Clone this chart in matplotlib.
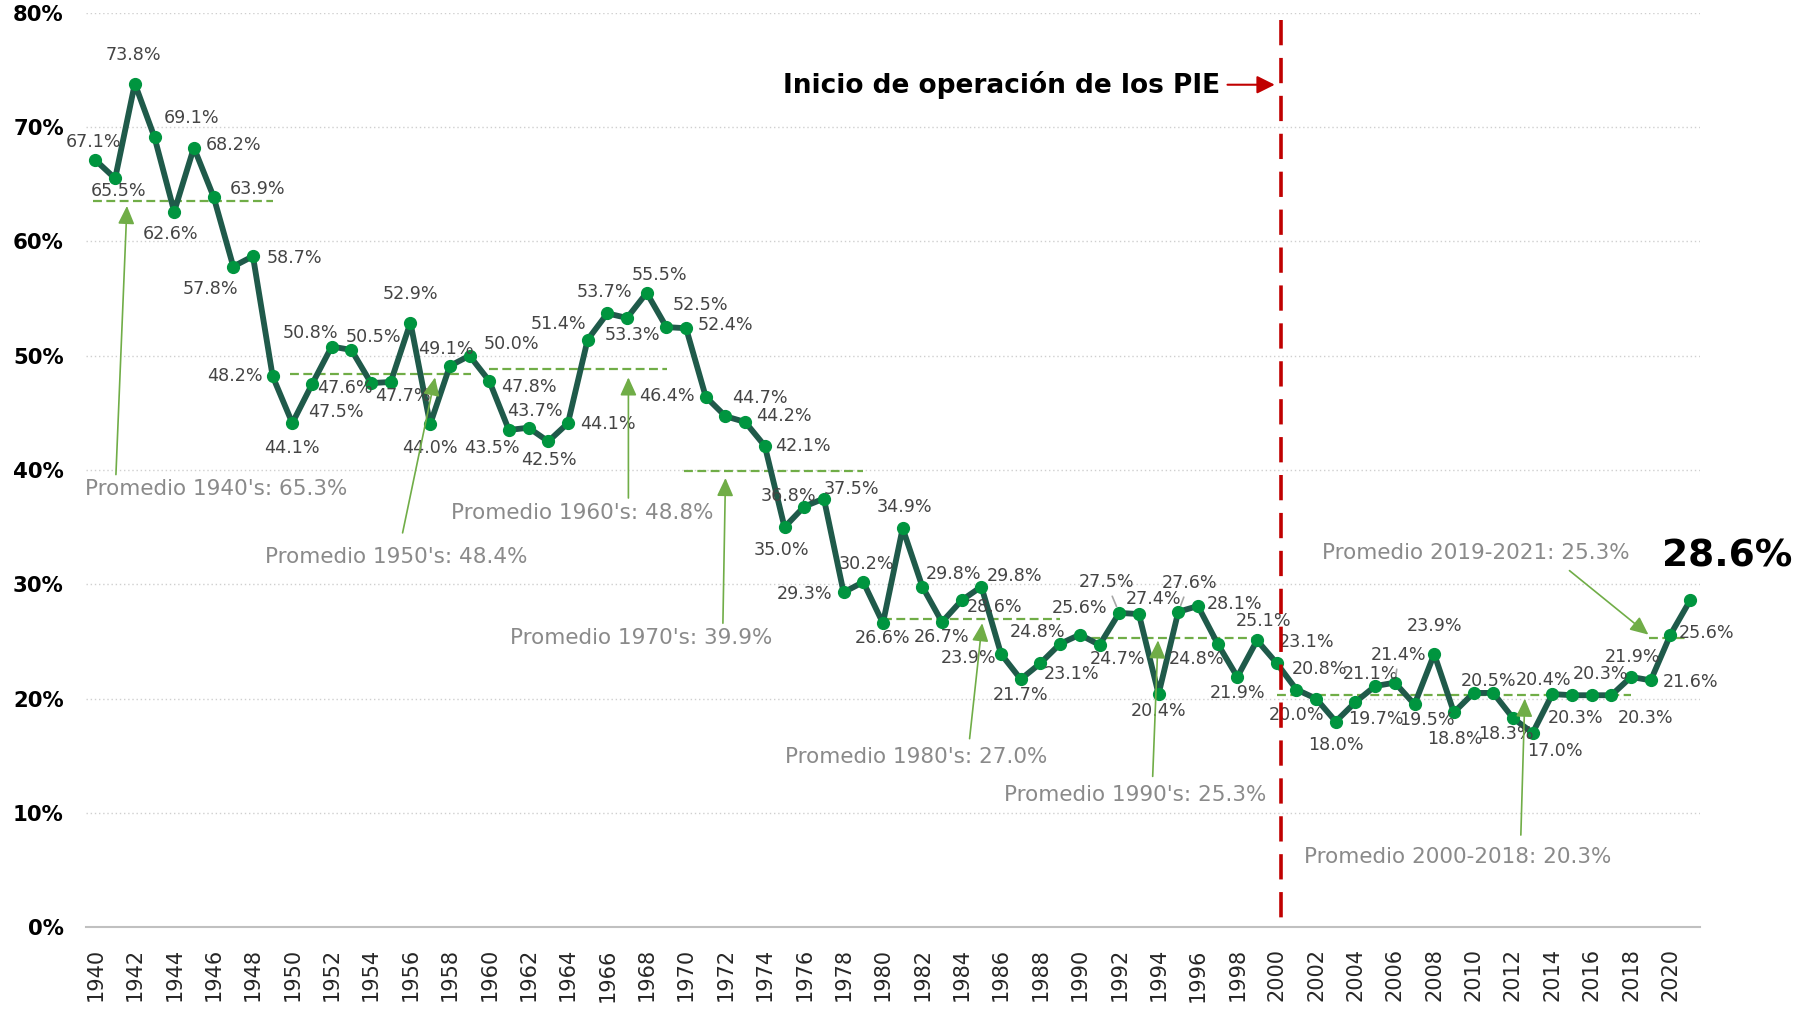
import matplotlib
matplotlib.use('Agg')
import matplotlib.pyplot as plt

plt.rcParams['font.family'] = ['DejaVu Sans']

# ---------------- data ----------------
years = list(range(1940, 2022))
values = [67.1, 65.5, 73.8, 69.1, 62.6, 68.2, 63.9, 57.8, 58.7, 48.2,
          44.1, 47.5, 50.8, 50.5, 47.6, 47.7, 52.9, 44.0, 49.1, 50.0,
          47.8, 43.5, 43.7, 42.5, 44.1, 51.4, 53.7, 53.3, 55.5, 52.5,
          52.4, 46.4, 44.7, 44.2, 42.1, 35.0, 36.8, 37.5, 29.3, 30.2,
          26.6, 34.9, 29.8, 26.7, 28.6, 29.8, 23.9, 21.7, 23.1, 24.8,
          25.6, 24.7, 27.5, 27.4, 20.4, 27.6, 28.1, 24.8, 21.9, 25.1,
          23.1, 20.8, 20.0, 18.0, 19.7, 21.1, 21.4, 19.5, 23.9, 18.8,
          20.5, 20.5, 18.3, 17.0, 20.4, 20.3, 20.3, 20.3, 21.9, 21.6,
          25.6, 28.6]
unlabeled_years = [2011, 2021]
leader_years = [1992, 1995, 2006]

# label offsets in pixels (dx, dy up)
label_offsets = [(-2, 18), (3, -13), (-1, 29), (37, 19), (-4, -22), (40, 3), (44, 8), (-23, -22), (42, -2), (-38, 0),
                 (0, -25), (24, -28), (-21, 14), (22, 13), (-26, -5), (12, -14), (0, 29), (0, -24), (-4, 17), (42, 12),
                 (40, -6), (-17, -18), (6, 17), (1, -19), (40, -1), (-29, 16), (-3, 21), (5, -17), (13, 18), (34, 22),
                 (39, 3), (-39, 1), (34, 18), (39, 6), (38, 0), (-3, -23), (-16, 11), (28, 10), (-39, -2), (3, 18),
                 (0, -15), (2, 21), (31, 13), (0, -15), (33, -7), (33, 11), (-33, -4), (0, -16), (31, -11), (-23, 12),
                 (0, 27), (18, -14), (-13, 31), (15, 15), (0, -17), (11, 29), (37, 2), (-21, -15), (0, -16), (7, 19),
                 (30, 21), (23, 21), (-20, -16), (0, -23), (20, -17), (-5, 12), (4, 28), (12, -16), (0, 28), (1, -27),
                 (15, 12), (0, 0), (-7, -16), (22, -18), (-9, 14), (4, -23), (9, 21), (34, -23), (1, 20), (40, -2),
                 (36, 2), (0, 0)]

# average segments
avg_labels = ["Promedio 1940's: 65.3%", "Promedio 1950's: 48.4%", "Promedio 1960's: 48.8%",
              "Promedio 1970's: 39.9%", "Promedio 1980's: 27.0%", "Promedio 1990's: 25.3%",
              "Promedio 2000-2018: 20.3%", "Promedio 2019-2021: 25.3%"]
avg_values = [63.5, 48.4, 48.8, 39.9, 27.0, 25.3, 20.3, 25.3]
avg_start = [1939.9, 1949.9, 1960.0, 1969.9, 1980.0, 1989.9, 2000.0, 2018.9]
avg_end = [1949.0, 1959.05, 1969.05, 1979.0, 1989.0, 1999.2, 2018.0, 2020.8]
# annotation text positions (center) and arrows (tail -> tip)
avg_text_pos = [(1939.47, 38.35, 'left'), (1955.3, 32.4, 'center'), (1964.75, 36.2, 'center'),
                (1967.7, 25.3, 'center'), (1981.67, 14.9, 'center'), (1992.8, 11.6, 'center'),
                (2009.2, 6.16, 'center'), (2010.1, 32.7, 'center')]
avg_arrow_tail = [(1941.04, 39.6), (1955.6, 34.5), (1967.07, 37.55), (1971.87, 26.6),
                  (1984.4, 16.5), (1993.7, 13.2), (2012.4, 8.07), (2014.87, 31.2)]
avg_arrow_tip = [(1941.6, 63.1), (1957.25, 48.1), (1967.07, 48.1), (1972.0, 39.3),
                 (1985.04, 26.6), (1993.97, 25.1), (2012.6, 20.0), (2018.88, 25.6)]

y_ticks = [0, 10, 20, 30, 40, 50, 60, 70, 80]
y_tick_labels = ['0%', '10%', '20%', '30%', '40%', '50%', '60%', '70%', '80%']
x_ticks = list(range(1940, 2021, 2))

pie_year = 2000.2
pie_text = 'Inicio de operación de los PIE'
last_label = '28.6%'

# ---------------- styles ----------------
LINE_C = '#1f5a4a'
MARK_C = '#00953f'
AVG_C = '#70ad47'
RED = '#c00000'
LBL_C = '#444444'
PROM_C = '#8a8a8a'

fig = plt.figure(figsize=(18.04, 10.09), dpi=100)
fig.patch.set_facecolor('white')
ax = fig.add_axes([86 / 1804, 81.7 / 1009, 1614 / 1804, 914.6 / 1009])
ax.set_facecolor('none')

ax.set_xlim(1939.52, 2021.5)
ax.set_ylim(0, 80)

# grid
for yv in y_ticks[1:]:
    ax.axhline(yv, color='#cfcfcf', lw=1.0, ls=(0, (1, 2)), zorder=0)
for s in ['top', 'right', 'left']:
    ax.spines[s].set_visible(False)
ax.spines['bottom'].set_color('#c0c0c0')
ax.spines['bottom'].set_linewidth(1.5)

ax.set_yticks(y_ticks)
ax.set_yticklabels(y_tick_labels, fontsize=15.3, fontweight='bold', color='black')
ax.tick_params(axis='y', length=0, pad=16)
ax.set_xticks(x_ticks)
ax.set_xticklabels([str(x) for x in x_ticks], rotation=90, fontsize=15, color='#262626', va='top')
ax.tick_params(axis='x', length=0, pad=15)

# average lines
for s, e, v in zip(avg_start, avg_end, avg_values):
    ax.plot([s, e], [v, v], color=AVG_C, lw=1.6, ls=(0, (4, 2)), zorder=2)

# main line
ax.plot(years, values, color=LINE_C, lw=4.2, zorder=3, solid_joinstyle='round')
ax.plot(years, values, ls='none', marker='o', ms=8.5, color=MARK_C, zorder=4)

# data labels
for yr, v, (dx, dy) in zip(years, values, label_offsets):
    if yr in unlabeled_years:
        continue
    if yr in leader_years:
        ax.annotate(f'{v:.1f}%', xy=(yr, v), xytext=(dx, dy), textcoords='offset pixels',
                    ha='center', va='center', fontsize=12.6, color=LBL_C, zorder=5,
                    arrowprops=dict(arrowstyle='-', color='#a6a6a6', lw=1.2, shrinkA=2, shrinkB=5))
    else:
        ax.annotate(f'{v:.1f}%', xy=(yr, v), xytext=(dx, dy), textcoords='offset pixels',
                    ha='center', va='center', fontsize=12.6, color=LBL_C, zorder=5)

# average annotations
for lab, (tx, ty, ha), tail, tip in zip(avg_labels, avg_text_pos, avg_arrow_tail, avg_arrow_tip):
    ax.text(tx, ty, lab, ha=ha, va='center', fontsize=15.5, color=PROM_C, zorder=5)
    ax.annotate('', xy=tip, xytext=tail,
                arrowprops=dict(arrowstyle='-|>,head_length=1.1,head_width=0.5', color=AVG_C, lw=1.2,
                                mutation_scale=10, shrinkA=0, shrinkB=0), zorder=5)

# last value big label
ax.text(2022.86, 32.4, last_label, ha='center', va='center', fontsize=27, fontweight='bold',
        color='black', clip_on=False, zorder=6)

# PIE line and annotation
ax.plot([pie_year, pie_year], [79.4, 0], color=RED, lw=2.6, dashes=(7, 3.5), zorder=6)
ax.text(1997.15, 73.7, pie_text, ha='right', va='center', fontsize=19, fontweight='bold', color='black')
ax.annotate('', xy=(1999.9, 73.7), xytext=(1997.5, 73.7),
            arrowprops=dict(arrowstyle='-|>,head_length=0.9,head_width=0.45', color=RED, lw=1.5,
                            mutation_scale=12, shrinkA=0, shrinkB=0))

fig.savefig('out.png', dpi=100, facecolor='white')
